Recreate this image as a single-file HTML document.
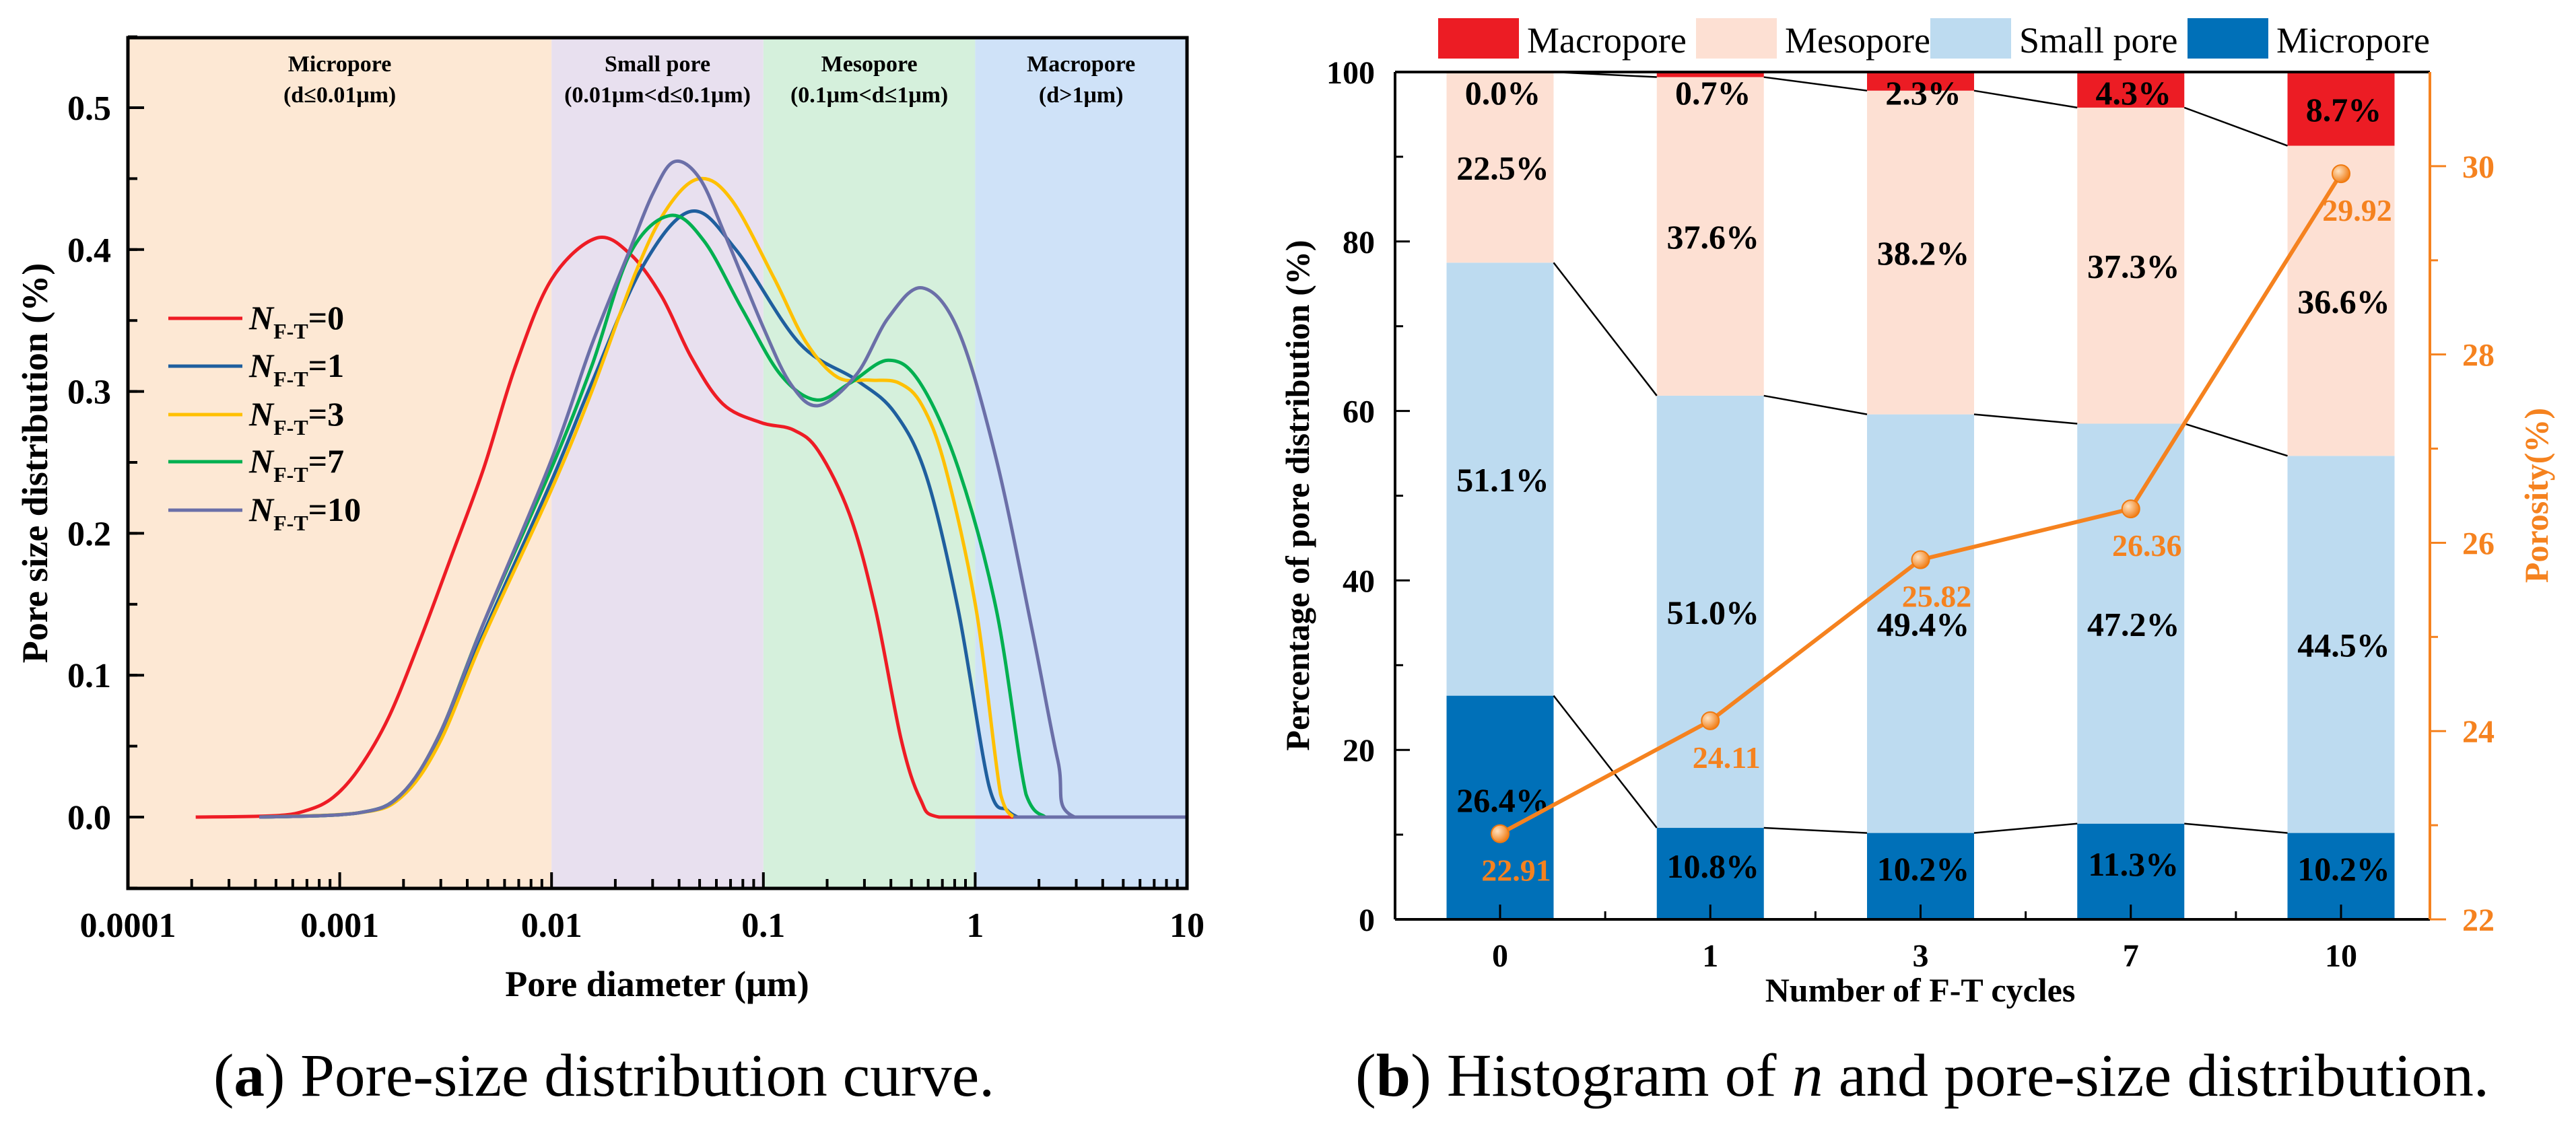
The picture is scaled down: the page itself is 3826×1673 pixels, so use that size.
<!DOCTYPE html>
<html><head><meta charset="utf-8">
<style>
html,body{margin:0;padding:0;background:#fff;}
svg{display:block;}
text{font-family:"Liberation Serif",serif;}
</style></head>
<body>
<svg id="fig" xmlns="http://www.w3.org/2000/svg" width="3826" height="1673" viewBox="0 0 3826 1673">
<g id="chartA"></g>
<g id="chartB"></g>
<text x="317" y="1628" font-size="90" textLength="1160" lengthAdjust="spacingAndGlyphs">(<tspan font-weight="bold">a</tspan>) Pore-size distribution curve.</text>
<text x="2013" y="1628" font-size="90" textLength="1684" lengthAdjust="spacingAndGlyphs">(<tspan font-weight="bold">b</tspan>) Histogram of <tspan font-style="italic">n</tspan> and pore-size distribution.</text>
</svg>
<script>
// ---------- Chart A data (log10 of pore diameter in µm, distribution %) ----------
const seriesNames = ["0","1","3","7","10"];
const seriesColors = ["#ee1c25","#1f5f9e","#ffc000","#00b050","#6b6fa8"];
const logD0 = [-3.68,-3.3,-3.15,-3.03,-2.91,-2.77,-2.62,-2.47,-2.32,-2.17,-2.0,-1.79,-1.63,-1.48,-1.34,-1.19,-1.01,-0.86,-0.74,-0.59,-0.47,-0.35,-0.26,-0.17,0.18];
const v0 = [0,0.001,0.005,0.014,0.034,0.07,0.125,0.185,0.246,0.318,0.379,0.408,0.397,0.367,0.324,0.291,0.278,0.273,0.258,0.212,0.146,0.055,0.013,0,0];
const logD1 = [-3.38,-2.91,-2.71,-2.53,-2.32,-2.0,-1.81,-1.57,-1.34,-1.13,-0.83,-0.56,-0.38,-0.23,-0.08,0.065,0.15,0.2];
const v1 = [0,0.003,0.016,0.055,0.13,0.237,0.306,0.388,0.427,0.40,0.334,0.308,0.285,0.24,0.146,0.022,0.005,0];
const logD3 = [-3.38,-2.91,-2.71,-2.53,-2.32,-2.0,-1.81,-1.6,-1.45,-1.3,-1.15,-0.95,-0.8,-0.65,-0.5,-0.36,-0.25,-0.14,0.005,0.12,0.18];
const v3 = [0,0.003,0.014,0.052,0.127,0.231,0.30,0.385,0.43,0.45,0.435,0.38,0.335,0.31,0.308,0.306,0.29,0.246,0.146,0.016,0];
const logD7 = [-3.38,-2.91,-2.71,-2.53,-2.32,-2.0,-1.81,-1.63,-1.44,-1.28,-1.1,-0.92,-0.75,-0.59,-0.41,-0.26,-0.08,0.1,0.24,0.33];
const v7 = [0,0.003,0.016,0.058,0.137,0.246,0.318,0.397,0.424,0.406,0.358,0.312,0.294,0.306,0.322,0.306,0.246,0.146,0.016,0];
const logD10 = [-3.38,-2.91,-2.71,-2.53,-2.32,-2.0,-1.81,-1.63,-1.52,-1.42,-1.3,-1.18,-1.0,-0.87,-0.74,-0.56,-0.41,-0.25,-0.08,0.1,0.27,0.39,0.47,1.0];
const v10 = [0,0.003,0.016,0.058,0.137,0.252,0.333,0.40,0.44,0.462,0.45,0.41,0.345,0.305,0.29,0.312,0.352,0.373,0.343,0.252,0.131,0.04,0,0];
const xTicksA = [0.0001,0.001,0.01,0.1,1,10];
const xTickLabelsA = ["0.0001","0.001","0.01","0.1","1","10"];
const yTicksA = [0,0.1,0.2,0.3,0.4,0.5];
const yTickLabelsA = ["0.0","0.1","0.2","0.3","0.4","0.5"];
const bandEdges = [0.0001,0.01,0.1,1,10];
const bandTitles = ["Micropore","Small pore","Mesopore","Macropore"];
const bandRanges = ["(d\u22640.01\u03bcm)","(0.01\u03bcm<d\u22640.1\u03bcm)","(0.1\u03bcm<d\u22641\u03bcm)","(d>1\u03bcm)"];
// ---------- Chart B data ----------
const cycles = ["0","1","3","7","10"];
const micro = [26.4,10.8,10.2,11.3,10.2];
const small = [51.1,51.0,49.4,47.2,44.5];
const meso = [22.5,37.6,38.2,37.3,36.6];
const macro = [0.0,0.7,2.3,4.3,8.7];
const porosity = [22.91,24.11,25.82,26.36,29.92];
const yTicksB = [0,20,40,60,80,100];
const yTicksR = [22,24,26,28,30];

const NS="http://www.w3.org/2000/svg";
function mk(tag, attrs, parent, txt){
  const e=document.createElementNS(NS,tag);
  for(const k in attrs) e.setAttribute(k,attrs[k]);
  if(txt!==undefined) e.textContent=txt;
  parent.appendChild(e); return e;
}
// ---------- Chart A ----------
const A=document.getElementById('chartA');
const AL=190, AR=1763, AT=56, AB=1320;
const xLog = l => AL + (l+4)*(AR-AL)/5;
const xA = d => xLog(Math.log10(d));
const yA = v => 1214 - v*2108;
const bandColors=["#fde8d4","#e8e0ef","#d5f0dc","#cfe2f8"];
for(let i=0;i<4;i++){
  const r=mk('rect',{x:xA(bandEdges[i]),y:AT,width:xA(bandEdges[i+1])-xA(bandEdges[i]),height:AB-AT,fill:bandColors[i]},A);
  
  
  const cx=(xA(bandEdges[i])+xA(bandEdges[i+1]))/2;
  const t1=mk('text',{x:cx,y:106,'font-size':34,'font-weight':'bold','text-anchor':'middle'},A,bandTitles[i]);
  
  
  const t2=mk('text',{x:cx,y:152,'font-size':34,'font-weight':'bold','text-anchor':'middle'},A,bandRanges[i]);
  
  
}
function smoothPath(pts){
  let p='M'+pts[0][0]+','+pts[0][1];
  const y0=yA(0);
  for(let i=0;i<pts.length-1;i++){
    const p0=pts[Math.max(0,i-1)],p1=pts[i],p2=pts[i+1],p3=pts[Math.min(pts.length-1,i+2)];
    const c1x=p1[0]+(p2[0]-p0[0])/6, c1y=p1[1]+(p2[1]-p0[1])/6;
    const c2x=p2[0]-(p3[0]-p1[0])/6, c2y=p2[1]-(p3[1]-p1[1])/6;
    p+=' C'+c1x+','+Math.min(y0,c1y)+' '+c2x+','+Math.min(y0,c2y)+' '+p2[0]+','+p2[1];
  }
  return p;
}
const lSets=[logD0,logD1,logD3,logD7,logD10], vSets=[v0,v1,v3,v7,v10];
for(let s=0;s<5;s++){
  const pts=lSets[s].map((l,i)=>[xLog(l),yA(vSets[s][i])]);
  const path=mk('path',{d:smoothPath(pts),fill:'none',stroke:seriesColors[s],'stroke-width':5,'stroke-linejoin':'round'},A);
  
  
}
const zl=mk('line',{x1:xLog(0.18),x2:AR,y1:yA(0),y2:yA(0),stroke:'#6b6fa8','stroke-width':5},A);


const fr=mk('rect',{x:AL,y:AT,width:AR-AL,height:AB-AT,fill:'none',stroke:'#000','stroke-width':5},A);


for(let e=-4;e<1;e++){
  for(let m=2;m<10;m++){
    const x=xA(m*Math.pow(10,e));
    mk('line',{x1:x,x2:x,y1:AB,y2:AB-14,stroke:'#000','stroke-width':4},A);
  }
}
xTicksA.forEach((d,i)=>{
  const x=xA(d);
  mk('line',{x1:x,x2:x,y1:AB,y2:AB-24,stroke:'#000','stroke-width':4},A);
  const t=mk('text',{x:x,y:1392,'font-size':52,'font-weight':'bold','text-anchor':'middle'},A,xTickLabelsA[i]);
  
  
});
for(let v=-0.05;v<0.55;v+=0.05){
  const y=yA(v);
  mk('line',{x1:AL,x2:AL+14,y1:y,y2:y,stroke:'#000','stroke-width':4},A);
}
yTicksA.forEach((v,i)=>{
  const y=yA(v);
  mk('line',{x1:AL,x2:AL+24,y1:y,y2:y,stroke:'#000','stroke-width':4},A);
  const t=mk('text',{x:165,y:y+18,'font-size':52,'font-weight':'bold','text-anchor':'end'},A,yTickLabelsA[i]);
  
  
});
const xt=mk('text',{x:976,y:1480,'font-size':54,'font-weight':'bold','text-anchor':'middle'},A,'Pore diameter (\u03bcm)');


const yt=mk('text',{x:0,y:0,'font-size':54,'font-weight':'bold','text-anchor':'middle',transform:'translate(70,688) rotate(-90)'},A,'Pore size distribution (%)');


const legY=[473,544,616,686,758];
for(let s=0;s<5;s++){
  const g=mk('g',{},A);
  
  
  mk('line',{x1:250,x2:360,y1:legY[s],y2:legY[s],stroke:seriesColors[s],'stroke-width':5},g);
  const t=mk('text',{x:370,y:legY[s]+16,'font-size':50,'font-weight':'bold'},g);
  mk('tspan',{'font-style':'italic'},t,'N');
  mk('tspan',{'font-size':32,dy:14},t,'F-T');
  mk('tspan',{dy:-14},t,'='+seriesNames[s]);
}
// ---------- Chart B ----------
const B=document.getElementById('chartB');
const BL=2072, BR=3609, BT=107, BB=1366;
const xB = i => 2228 + i*312.25;
const yB = p => BB - p*(BB-BT)/100;
const yR = p => BB - (p-22)*(BB-BT)/9;
const bw=159;
const segColors=["#0070b8","#bddbf0","#fde0d3","#ec1c24"];
const segNames=["micropore","small-pore","mesopore","macropore"];
const stacks=[micro,small,meso,macro];
const cum=[];
for(let i=0;i<cycles.length;i++){
  let base=0; cum.push([]);
  for(let k=0;k<4;k++){
    const v=stacks[k][i];
    const top=Math.min(100,base+v);
    const r=mk('rect',{x:xB(i)-bw/2,y:yB(top),width:bw,height:yB(base)-yB(top),fill:segColors[k]},B);
    
    
    base=top; cum[i].push(top);
  }
}
for(let i=0;i<cycles.length-1;i++){
  for(let k=0;k<3;k++){
    mk('line',{x1:xB(i)+bw/2,x2:xB(i+1)-bw/2,y1:yB(cum[i][k]),y2:yB(cum[i+1][k]),stroke:'#000','stroke-width':2.5},B);
  }
}
for(let i=0;i<cycles.length;i++){
  let base=0;
  for(let k=0;k<4;k++){
    const v=stacks[k][i];
    const top=Math.min(100,base+v);
    let y=(yB(base)+yB(top))/2+18;
    if(k===0) y-=12;
    if(k===3) y=Math.max(y,yB(100)+48);
    const t=mk('text',{x:xB(i)+4,y:y,'font-size':50,'font-weight':'bold','text-anchor':'middle'},B,v.toFixed(1)+'%');
    
    
    base=top;
  }
}
mk('line',{x1:BL,x2:BL,y1:BT,y2:BB,stroke:'#000','stroke-width':4},B);
mk('line',{x1:BL,x2:BR,y1:BB,y2:BB,stroke:'#000','stroke-width':4},B);
mk('line',{x1:BL,x2:BR,y1:BT,y2:BT,stroke:'#000','stroke-width':4},B);
mk('line',{x1:BR,x2:BR,y1:BT,y2:BB,stroke:'#f5821f','stroke-width':4},B);
for(let p=10;p<100;p+=20){
  mk('line',{x1:BL,x2:BL+12,y1:yB(p),y2:yB(p),stroke:'#000','stroke-width':3},B);
}
yTicksB.forEach(p=>{
  mk('line',{x1:BL,x2:BL+22,y1:yB(p),y2:yB(p),stroke:'#000','stroke-width':3},B);
  const t=mk('text',{x:2042,y:yB(p)+17,'font-size':48,'font-weight':'bold','text-anchor':'end'},B,String(p));
  
  
});
for(let p=23;p<31;p+=2){
  mk('line',{x1:BR,x2:BR+12,y1:yR(p),y2:yR(p),stroke:'#f5821f','stroke-width':3},B);
}
yTicksR.forEach(p=>{
  mk('line',{x1:BR,x2:BR+24,y1:yR(p),y2:yR(p),stroke:'#f5821f','stroke-width':3},B);
  const t=mk('text',{x:3657,y:yR(p)+17,'font-size':48,'font-weight':'bold',fill:'#f5821f'},B,String(p));
  
  
});
for(let i=0;i<cycles.length;i++){
  mk('line',{x1:xB(i),x2:xB(i),y1:BB,y2:BB-22,stroke:'#000','stroke-width':3},B);
  if(i<cycles.length-1) mk('line',{x1:xB(i+0.5),x2:xB(i+0.5),y1:BB,y2:BB-12,stroke:'#000','stroke-width':3},B);
  const t=mk('text',{x:xB(i),y:1436,'font-size':48,'font-weight':'bold','text-anchor':'middle'},B,cycles[i]);
  
  
}
const xtb=mk('text',{x:2852,y:1488,'font-size':50,'font-weight':'bold','text-anchor':'middle'},B,'Number of F-T cycles');


const ytb=mk('text',{x:0,y:0,'font-size':50,'font-weight':'bold','text-anchor':'middle',transform:'translate(1944,736) rotate(-90)'},B,'Percentage of pore distribution (%)');


const ytr=mk('text',{x:0,y:0,'font-size':50,'font-weight':'bold','text-anchor':'middle',fill:'#f5821f',transform:'translate(3784,736) rotate(-90)'},B,'Porosity(%)');


const defs=mk('defs',{},B);
const rg=mk('radialGradient',{id:'ball',cx:'0.35',cy:'0.35',r:'0.7'},defs);
mk('stop',{offset:'0','stop-color':'#ffe2c0'},rg);
mk('stop',{offset:'1','stop-color':'#f07a10'},rg);
const lp=porosity.map((p,i)=>xB(i)+','+yR(p)).join(' ');
const pl=mk('polyline',{points:lp,fill:'none',stroke:'#f5821f','stroke-width':6,'stroke-linejoin':'round'},B);


porosity.forEach((p,i)=>{
  const c=mk('circle',{cx:xB(i),cy:yR(p),r:13,fill:'url(#ball)',stroke:'#f07a10','stroke-width':2},B);
  
  
  const t=mk('text',{x:xB(i)+24,y:yR(p)+70,'font-size':46,'font-weight':'bold',fill:'#f5821f','text-anchor':'middle'},B,p.toFixed(2));
  
  
});
const legX=[2136,2519,2867,3249];
const legOrder=[3,2,1,0];
const legLabels=["Macropore","Mesopore","Small pore","Micropore"];
legOrder.forEach((k,j)=>{
  const g=mk('g',{},B);
  
  
  mk('rect',{x:legX[j],y:27,width:120,height:60,fill:segColors[k]},g);
  mk('text',{x:legX[j]+132,y:78,'font-size':54},g,legLabels[j]);
});
</script>
</body></html>
